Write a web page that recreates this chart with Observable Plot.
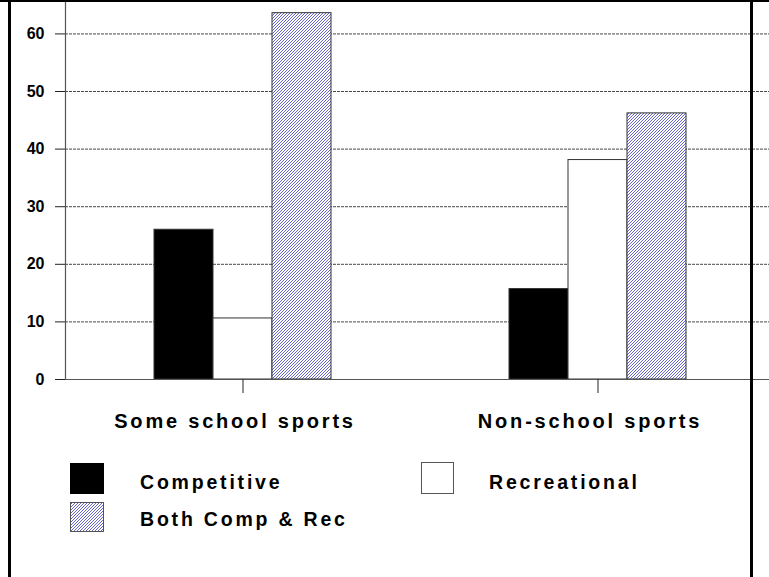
<!DOCTYPE html>
<html>
<head>
<meta charset="utf-8">
<script src="https://cdn.jsdelivr.net/npm/d3@7"></script>
<script src="https://cdn.jsdelivr.net/npm/@observablehq/plot@0.6"></script>
<style>
  html, body { margin: 0; padding: 0; background: #fff; }
  #wrap { position: relative; width: 769px; height: 577px; overflow: hidden;
          font-family: "Liberation Sans", Arial, sans-serif; }
  #chart { position: absolute; left: 0; top: 0; }
  .fr { position: absolute; background: #000; z-index: 5; }
  .lg-tx { position: absolute; font-size: 19.5px; font-weight: bold; letter-spacing: 2.8px;
           line-height: 1; white-space: nowrap; color: #000; }
  #chart [aria-label="fx-axis tick label"] { letter-spacing: 2.8px; }
</style>
</head>
<body>
<div id="wrap">
  <div id="chart"></div>
  <div class="fr" style="left:0;top:0;width:769px;height:2px;"></div>
  <div class="fr" style="left:8px;top:0;width:3px;height:577px;"></div>
  <div class="fr" style="left:750px;top:0;width:3px;height:577px;"></div>
  <div id="legend"></div>
</div>
<script>
// ---- data ----
const groups = ["Some school sports", "Non-school sports"];
const series = ["Competitive", "Recreational", "Both Comp & Rec"];
const competitive = [26.0, 15.7];
const recreational = [10.6, 38.1];
const bothCompRec = [63.6, 46.2];
const yTicks = [0, 10, 20, 30, 40, 50, 60];

const seriesValues = [competitive, recreational, bothCompRec];
const data = groups.flatMap((g, i) =>
  series.map((s, j) => ({ group: g, series: s, value: seriesValues[j][i] }))
);

const fills = ["#000000", "#ffffff", "url(#hatch)"];

const plot = Plot.plot({
  width: 769,
  height: 440,
  marginLeft: 65,
  marginRight: -6,
  marginTop: 0,
  marginBottom: 61,
  style: { fontFamily: "Liberation Sans, Arial, sans-serif", background: "transparent", overflow: "visible" },
  fx: { domain: groups, padding: 0, label: null },
  x: { domain: series, paddingInner: 0, paddingOuter: 1.5, axis: null },
  y: { domain: [0, 65.8], label: null },
  color: { domain: series, range: fills },
  marks: [
    Plot.ruleY(yTicks.filter(d => d > 0), { stroke: "#333", strokeDasharray: "3,1", strokeWidth: 1, strokeOpacity: 0.9 }),
    Plot.barY(data, { fx: "group", x: "series", y: "value", fill: "series", stroke: "#333", strokeWidth: 1, inset: 0 }),
    Plot.ruleY([0], { stroke: "#555", strokeWidth: 1.2 }),
    Plot.frame({ anchor: "left", stroke: "#555", strokeWidth: 1.2, facetAnchor: "left" }),
    Plot.axisY({ ticks: yTicks, tickSize: 10, tickPadding: 11, fontSize: 16, fontWeight: "bold",
                 stroke: "#222", fill: "#000", label: null, tickFormat: d => String(d) }),
    Plot.axisFx({ anchor: "bottom", tickSize: 14, stroke: "#222", tickFormat: () => "", label: null }),
    Plot.axisFx({ anchor: "bottom", tickSize: 0, tickPadding: 34, fontSize: 20, fontWeight: "bold",
                  fill: "#000", dx: -8, label: null })
  ]
});

// hatch pattern definition
const defs = d3.select(plot).insert("defs", ":first-child");
const pat = defs.append("pattern")
  .attr("id", "hatch").attr("patternUnits", "userSpaceOnUse")
  .attr("width", 3).attr("height", 3);
pat.append("rect").attr("width", 3).attr("height", 3).attr("fill", "#ffffff");
pat.append("path").attr("d", "M0,3 L3,0 M-1,1 L1,-1 M2,4 L4,2")
  .attr("stroke", "#5252c4").attr("stroke-width", 0.9);

document.getElementById("chart").appendChild(plot);

// legend
const legend = document.getElementById("legend");
const legendPos = [
  { sw: [70, 463, 34, 31], tx: [140, 473] },
  { sw: [421, 462, 33, 32], tx: [489, 473] },
  { sw: [70, 502, 34, 30], tx: [140, 510] }
];
series.forEach((s, j) => {
  const p = legendPos[j];
  const sw = document.createElementNS("http://www.w3.org/2000/svg", "svg");
  sw.setAttribute("width", p.sw[2]);
  sw.setAttribute("height", p.sw[3]);
  sw.style.position = "absolute";
  sw.style.left = p.sw[0] + "px";
  sw.style.top = p.sw[1] + "px";
  const r = document.createElementNS("http://www.w3.org/2000/svg", "rect");
  r.setAttribute("x", 0.5); r.setAttribute("y", 0.5);
  r.setAttribute("width", p.sw[2] - 1); r.setAttribute("height", p.sw[3] - 1);
  r.setAttribute("fill", fills[j]);
  r.setAttribute("stroke", j === 0 ? "#000" : "#555");
  sw.appendChild(r);
  legend.appendChild(sw);
  const t = document.createElement("div");
  t.className = "lg-tx";
  t.style.left = p.tx[0] + "px";
  t.style.top = p.tx[1] + "px";
  t.textContent = s;
  legend.appendChild(t);
});
</script>
</body>
</html>
